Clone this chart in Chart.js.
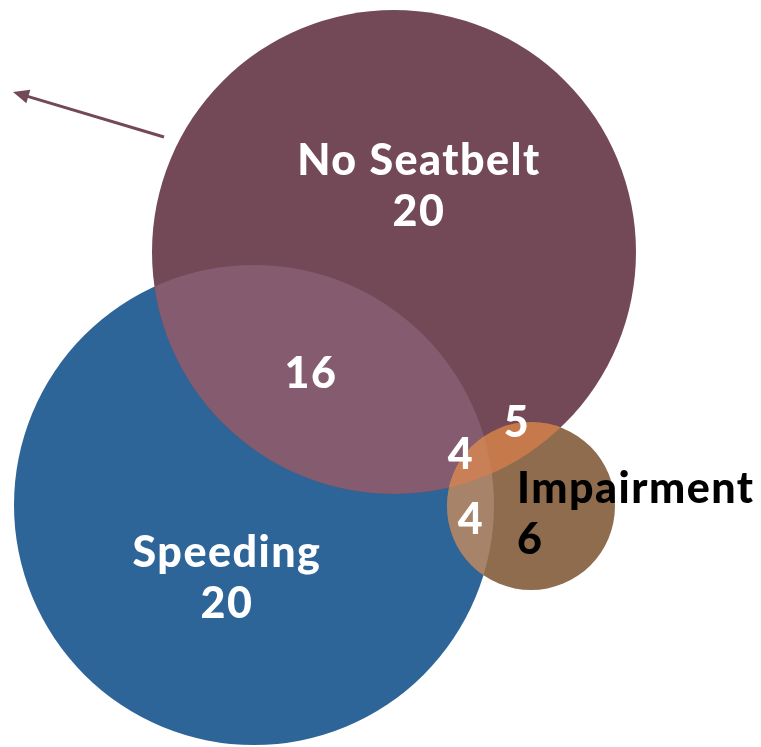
<!DOCTYPE html>
<html>
<head>
<meta charset="utf-8">
<script src="https://cdn.jsdelivr.net/npm/chart.js@4.4.1/dist/chart.umd.min.js"></script>
<style>
  html, body { margin: 0; padding: 0; background: #fff; }
  #venn { display: block; }
</style>
</head>
<body>
<canvas id="venn" width="761" height="747"></canvas>
<script>
"use strict";

// sets and counts
const setNames = ["Speeding", "No Seatbelt", "Impairment"];
const setTotals = [20, 20, 6];
const setColors = ["#2e6599", "#744957", "#8e6c4d"];
const labelColors = ["#ffffff", "#ffffff", "#000000"];

// circle layout in chart units (x, y, radius)
const circleX = [254, 394, 531];
const circleY = [505, 252, 506];
const circleR = [240, 242, 84];

// overlap regions: which sets, shown count, fill, label spot
const overlapSets = [[0, 1], [1, 2], [0, 2], [0, 1, 2]];
const overlapCounts = [16, 5, 4, 4];
const overlapColors = ["#855b6f", "#c67a4b", "#a7836a", "#c98056"];
const overlapLabelX = [311, 517, 471, 461];
const overlapLabelY = [374, 423, 520, 455];

// set label spots
const setLabelX = [227, 419, 517];
const setLabelY = [553, 161, 489];
const setLabelAlign = ["center", "center", "left"];

const FONT = "Lato, 'Open Sans', sans-serif";

const ctxEl = document.getElementById("venn");

const vennPlugin = {
  id: "venn",
  afterDatasetsDraw(chart) {
    const ctx = chart.ctx;
    const xs = chart.scales.x;
    const ys = chart.scales.y;
    const pts = chart.getDatasetMeta(0).data;

    const circlePath = (i) => {
      ctx.beginPath();
      ctx.arc(pts[i].x, pts[i].y, pts[i].options.radius, 0, Math.PI * 2);
    };

    // shade intersections
    overlapSets.forEach((sets, k) => {
      ctx.save();
      for (let j = 0; j < sets.length - 1; j++) {
        circlePath(sets[j]);
        ctx.clip();
      }
      circlePath(sets[sets.length - 1]);
      ctx.fillStyle = overlapColors[k];
      ctx.fill();
      ctx.restore();
    });

    ctx.save();
    ctx.textBaseline = "middle";
    ctx.font = "900 43px " + FONT;
    ctx.letterSpacing = "1.5px";

    // set names with totals
    setNames.forEach((name, i) => {
      const x = xs.getPixelForValue(setLabelX[i]);
      const y = ys.getPixelForValue(setLabelY[i]);
      ctx.fillStyle = labelColors[i];
      ctx.textAlign = setLabelAlign[i];
      ctx.fillText(name, x, y);
      ctx.fillText(String(setTotals[i]), x, y + 51);
    });

    // overlap counts
    ctx.fillStyle = "#ffffff";
    ctx.textAlign = "center";
    overlapCounts.forEach((n, k) => {
      ctx.fillText(String(n), xs.getPixelForValue(overlapLabelX[k]), ys.getPixelForValue(overlapLabelY[k]));
    });

    // pointer arrow
    const x0 = xs.getPixelForValue(164), y0 = ys.getPixelForValue(137);
    const x1 = xs.getPixelForValue(13), y1 = ys.getPixelForValue(92);
    const ang = Math.atan2(y1 - y0, x1 - x0);
    ctx.strokeStyle = "#744957";
    ctx.fillStyle = "#744957";
    ctx.lineWidth = 3;
    ctx.beginPath();
    ctx.moveTo(x0, y0);
    ctx.lineTo(x1 - 10 * Math.cos(ang), y1 - 10 * Math.sin(ang));
    ctx.stroke();
    ctx.beginPath();
    ctx.moveTo(x1, y1);
    ctx.lineTo(x1 - 16 * Math.cos(ang) + 7 * Math.sin(ang), y1 - 16 * Math.sin(ang) - 7 * Math.cos(ang));
    ctx.lineTo(x1 - 16 * Math.cos(ang) - 7 * Math.sin(ang), y1 - 16 * Math.sin(ang) + 7 * Math.cos(ang));
    ctx.closePath();
    ctx.fill();
    ctx.restore();
  },
};

new Chart(ctxEl, {
  type: "bubble",
  data: {
    labels: setNames,
    datasets: [
      {
        data: setNames.map((_, i) => ({ x: circleX[i], y: circleY[i], r: circleR[i] })),
        backgroundColor: setColors,
        borderWidth: 0,
        hoverBorderWidth: 0,
      },
    ],
  },
  options: {
    responsive: false,
    animation: false,
    events: [],
    layout: { padding: 0, autoPadding: false },
    clip: false,
    plugins: { legend: { display: false }, tooltip: { enabled: false } },
    scales: {
      x: { type: "linear", min: 0, max: 761, display: false },
      y: { type: "linear", min: 0, max: 747, reverse: true, display: false },
    },
  },
  plugins: [vennPlugin],
});
</script>
</body>
</html>
